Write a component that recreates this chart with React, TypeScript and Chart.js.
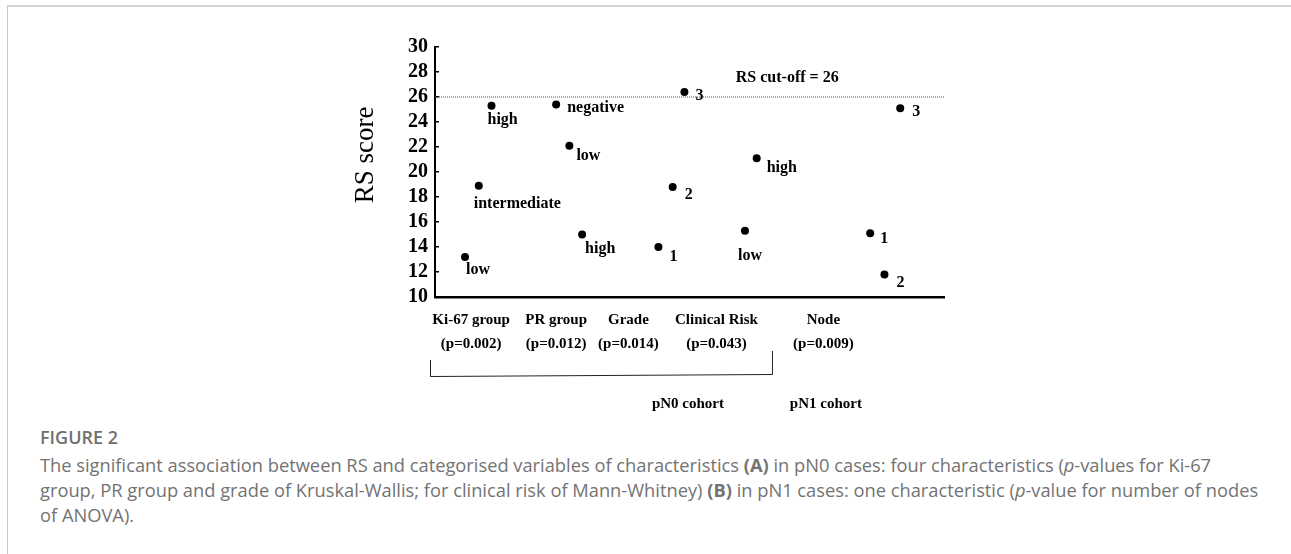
import React, { useEffect, useRef } from 'react';
import { Chart, registerables } from 'chart.js';

Chart.register(...registerables);

// ---- data ----
const categories = ['Ki-67 group', 'PR group', 'Grade', 'Clinical Risk', 'Node'];
const pValues = ['(p=0.002)', '(p=0.012)', '(p=0.014)', '(p=0.043)', '(p=0.009)'];
const categoryPositions = [7.1, 23.8, 38.0, 55.3, 76.3];
const cohortLabels = ['pN0 cohort', 'pN1 cohort'];
const cohortPositions = [49.7, 76.8];
const bracketEnd = 66.2;

const pointLabels = ['low', 'intermediate', 'high', 'negative', 'low', 'high', '1', '2', '3', 'high', 'low', '1', '2', '3'];
const pointX = [5.9, 8.6, 11.1, 23.8, 26.4, 28.9, 43.9, 46.7, 49.0, 63.2, 60.9, 85.5, 88.3, 91.4];
const rsScores = [13.2, 18.9, 25.3, 25.4, 22.1, 15.0, 14.0, 18.8, 26.4, 21.1, 15.3, 15.1, 11.8, 25.1];

const cutoff = 26;
const cutoffLabel = 'RS cut-off = 26';
const cutoffLabelPos = 59.1;
const yMin = 10;
const yMax = 30;
const yStep = 2;
const xMin = 0;
const xMax = 100;
const yTitle = 'RS score';

export default function App() {
  const ref = useRef<HTMLCanvasElement>(null);

  useEffect(() => {
    const canvas = ref.current;
    if (!canvas) return;
    const serif = '"Liberation Serif", "Times New Roman", serif';
    // label offsets relative to each point (dx, baseline dy) — styling only
    const labelOffsets: [number, number][] = [
      [1, 17], [-5, 22], [-4, 18], [11, 7], [7, 14], [3, 18], [11, 14], [12, 12], [11, 8],
      [10, 14], [-7, 29], [10, 10], [12, 12], [12, 8],
    ];

    const annot = {
      id: 'annot',
      afterDatasetsDraw(chart: any) {
        const { ctx, chartArea, scales } = chart;
        const xs = scales.x;
        const ys = scales.y;
        ctx.save();
        ctx.fillStyle = '#000';
        ctx.textBaseline = 'alphabetic';
        ctx.textAlign = 'left';
        ctx.font = `bold 16px ${serif}`;
        pointLabels.forEach((t, i) => {
          const px = xs.getPixelForValue(pointX[i]);
          const py = ys.getPixelForValue(rsScores[i]);
          ctx.fillText(t, px + labelOffsets[i][0], py + labelOffsets[i][1]);
        });
        ctx.fillText(cutoffLabel, xs.getPixelForValue(cutoffLabelPos), ys.getPixelForValue(cutoff) - 15);

        // y title
        ctx.save();
        ctx.translate(26, (chartArea.top + chartArea.bottom) / 2 - 17);
        ctx.rotate(-Math.PI / 2);
        ctx.textAlign = 'center';
        ctx.textBaseline = 'middle';
        ctx.font = `27px ${serif}`;
        ctx.fillText(yTitle, 0, 0);
        ctx.restore();

        // category labels
        ctx.textAlign = 'center';
        ctx.font = `bold 15px ${serif}`;
        categories.forEach((c, i) => {
          const x = xs.getPixelForValue(categoryPositions[i]);
          ctx.fillText(c, x, chartArea.bottom + 27);
          ctx.fillText(pValues[i], x, chartArea.bottom + 51);
        });

        // bracket
        const bl = chartArea.left - 5;
        const br = xs.getPixelForValue(bracketEnd);
        ctx.strokeStyle = '#222';
        ctx.lineWidth = 1;
        ctx.beginPath();
        ctx.moveTo(bl + 0.5, chartArea.bottom + 63);
        ctx.lineTo(bl + 0.5, chartArea.bottom + 79.5);
        ctx.lineTo(br + 0.5, chartArea.bottom + 77.5);
        ctx.lineTo(br + 0.5, chartArea.bottom + 54);
        ctx.stroke();

        // cohort labels
        cohortLabels.forEach((c, i) => {
          ctx.fillText(c, xs.getPixelForValue(cohortPositions[i]), chartArea.bottom + 111);
        });
        ctx.restore();
      },
    };

    const chart = new Chart(canvas, {
      type: 'scatter',
      data: {
        datasets: [
          {
            type: 'line',
            data: [
              { x: xMin, y: cutoff },
              { x: xMax, y: cutoff },
            ],
            borderColor: '#555',
            borderWidth: 1,
            borderDash: [1, 1],
            pointRadius: 0,
            fill: false,
          } as any,
          {
            data: pointX.map((x, i) => ({ x, y: rsScores[i] })),
            backgroundColor: '#000',
            borderWidth: 0,
            pointRadius: 4,
            pointHoverRadius: 4,
          },
        ],
      },
      options: {
        animation: false,
        responsive: false,
        devicePixelRatio: 1,
        events: [],
        layout: { padding: { left: 0, top: 47, right: 36, bottom: 123 } },
        plugins: { legend: { display: false }, tooltip: { enabled: false } },
        scales: {
          x: {
            type: 'linear',
            min: xMin,
            max: xMax,
            ticks: { display: false },
            grid: { display: false },
            border: { display: true, color: '#000', width: 2.5 },
            afterFit: (s: any) => {
              s.height = 0;
            },
          },
          y: {
            min: yMin,
            max: yMax,
            ticks: {
              stepSize: yStep,
              autoSkip: false,
              color: '#000',
              padding: 11,
              font: { family: serif, size: 20, weight: 'bold' },
            },
            grid: { drawOnChartArea: false, drawTicks: true, tickLength: -4, color: '#000', lineWidth: 1.5 },
            border: { display: true, color: '#000', width: 2 },
            afterFit: (s: any) => {
              s.width = 95;
            },
          },
        },
      },
      plugins: [annot],
    } as any);
    return () => chart.destroy();
  }, []);

  const capFont = '"Open Sans", "Noto Sans", sans-serif';
  return (
    <div style={{ position: 'fixed', left: 0, top: 0, width: 1291, height: 554, background: '#fff', overflow: 'hidden' }}>
      <div
        style={{
          position: 'absolute',
          left: 7,
          top: 5,
          width: 1300,
          height: 600,
          borderTop: '2px solid #d2d2d2',
          borderLeft: '1px solid #c8c8c8',
        }}
      />
      <canvas
        ref={ref}
        width={640}
        height={420}
        style={{ position: 'absolute', left: 340, top: 0, width: 640, height: 420 }}
      />
      <div
        style={{
          position: 'absolute',
          left: 40,
          top: 423,
          height: 29,
          lineHeight: '29px',
          fontFamily: capFont,
          fontSize: 18,
          fontWeight: 600,
          color: '#707070',
          whiteSpace: 'nowrap',
        }}
      >
        FIGURE 2
      </div>
      <div
        style={{
          position: 'absolute',
          left: 40,
          top: 452,
          lineHeight: '25px',
          fontFamily: capFont,
          fontSize: 18.3,
          fontWeight: 400,
          color: '#737373',
          whiteSpace: 'nowrap',
        }}
      >
        The significant association between RS and categorised variables of characteristics <b>(A)</b> in pN0 cases: four
        characteristics (<i>p</i>-values for Ki-67
        <br />
        group, PR group and grade of Kruskal-Wallis; for clinical risk of Mann-Whitney) <b>(B)</b> in pN1 cases: one
        characteristic (<i>p</i>-value for number of nodes
        <br />
        of ANOVA).
      </div>
    </div>
  );
}
